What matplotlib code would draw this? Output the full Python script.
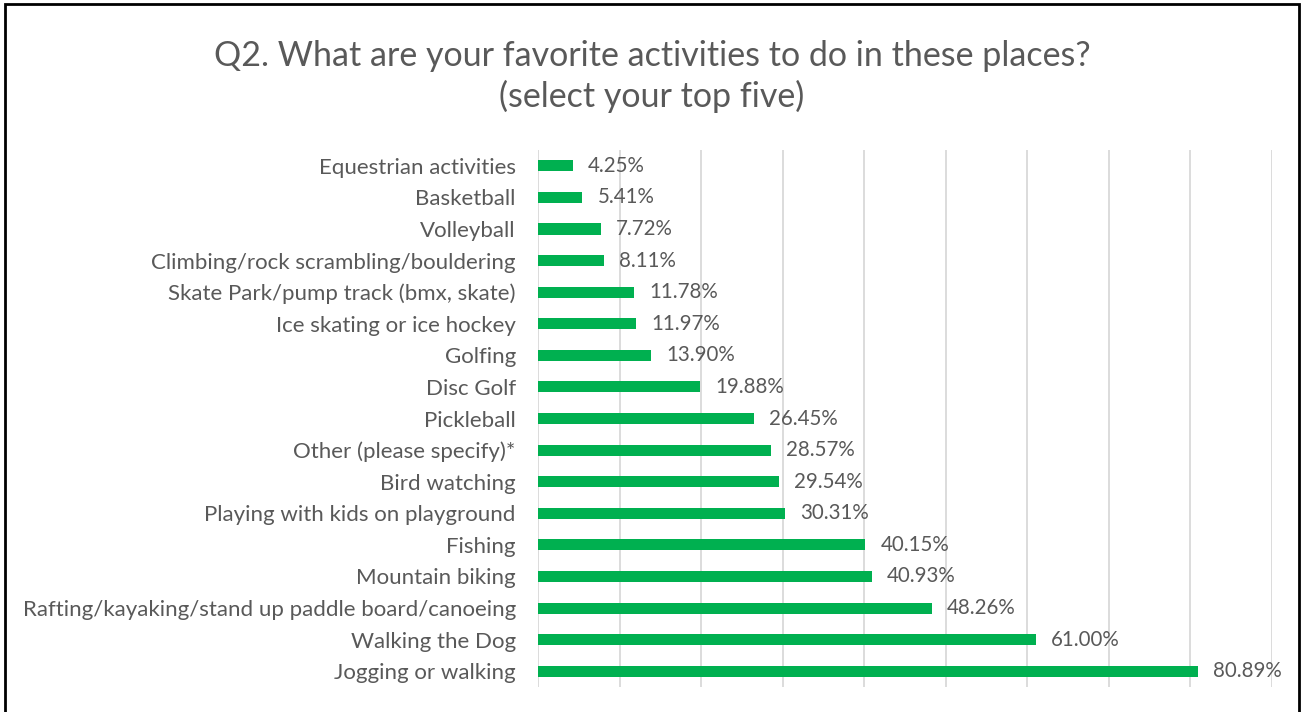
import matplotlib.pyplot as plt
from matplotlib.patches import Rectangle

plt.rcParams['font.family'] = ['Lato', 'DejaVu Sans']

activities = [
    "Equestrian activities",
    "Basketball",
    "Volleyball",
    "Climbing/rock scrambling/bouldering",
    "Skate Park/pump track (bmx, skate)",
    "Ice skating or ice hockey",
    "Golfing",
    "Disc Golf",
    "Pickleball",
    "Other (please specify)*",
    "Bird watching",
    "Playing with kids on playground",
    "Fishing",
    "Mountain biking",
    "Rafting/kayaking/stand up paddle board/canoeing",
    "Walking the Dog",
    "Jogging or walking",
]
percent = [4.25, 5.41, 7.72, 8.11, 11.78, 11.97, 13.90, 19.88, 26.45,
           28.57, 29.54, 30.31, 40.15, 40.93, 48.26, 61.00, 80.89]

text_color = '#595959'
green = '#00B050'

fig = plt.figure(figsize=(13.04, 7.12), dpi=100)
ax = fig.add_axes([0.4126, 0.0351, 0.5629, 0.7542])

y = range(len(activities))
ax.barh(y, percent, height=0.35, color=green, zorder=3)
for yi, v in zip(y, percent):
    ax.annotate(f'{v:.2f}%', (v, yi), xytext=(11, 0), textcoords='offset points',
                va='center', ha='left', fontsize=14.8, color=text_color)

ax.set_xlim(0, 90)
ax.set_ylim(len(activities) - 0.5, -0.5)
ax.set_xticks(range(0, 91, 10))
ax.set_xticklabels([])
ax.set_yticks(list(y))
ax.set_yticklabels(activities, fontsize=16, color=text_color)
ax.tick_params(axis='both', length=0)
ax.tick_params(axis='y', pad=16)
ax.grid(axis='x', color='#D9D9D9', linewidth=1.3, zorder=0)
for s in ax.spines.values():
    s.set_visible(False)

fig.text(0.5, 0.922, 'Q2. What are your favorite activities to do in these places?',
         ha='center', va='center', fontsize=24.5, color=text_color)
fig.text(0.5, 0.864, '(select your top five)',
         ha='center', va='center', fontsize=24.5, color=text_color)

# outer frame
fig.patches.append(Rectangle((0.004, -0.01), 0.992, 1.004, transform=fig.transFigure,
                             fill=False, edgecolor='black', linewidth=2))

fig.savefig('out.png', dpi=100)
